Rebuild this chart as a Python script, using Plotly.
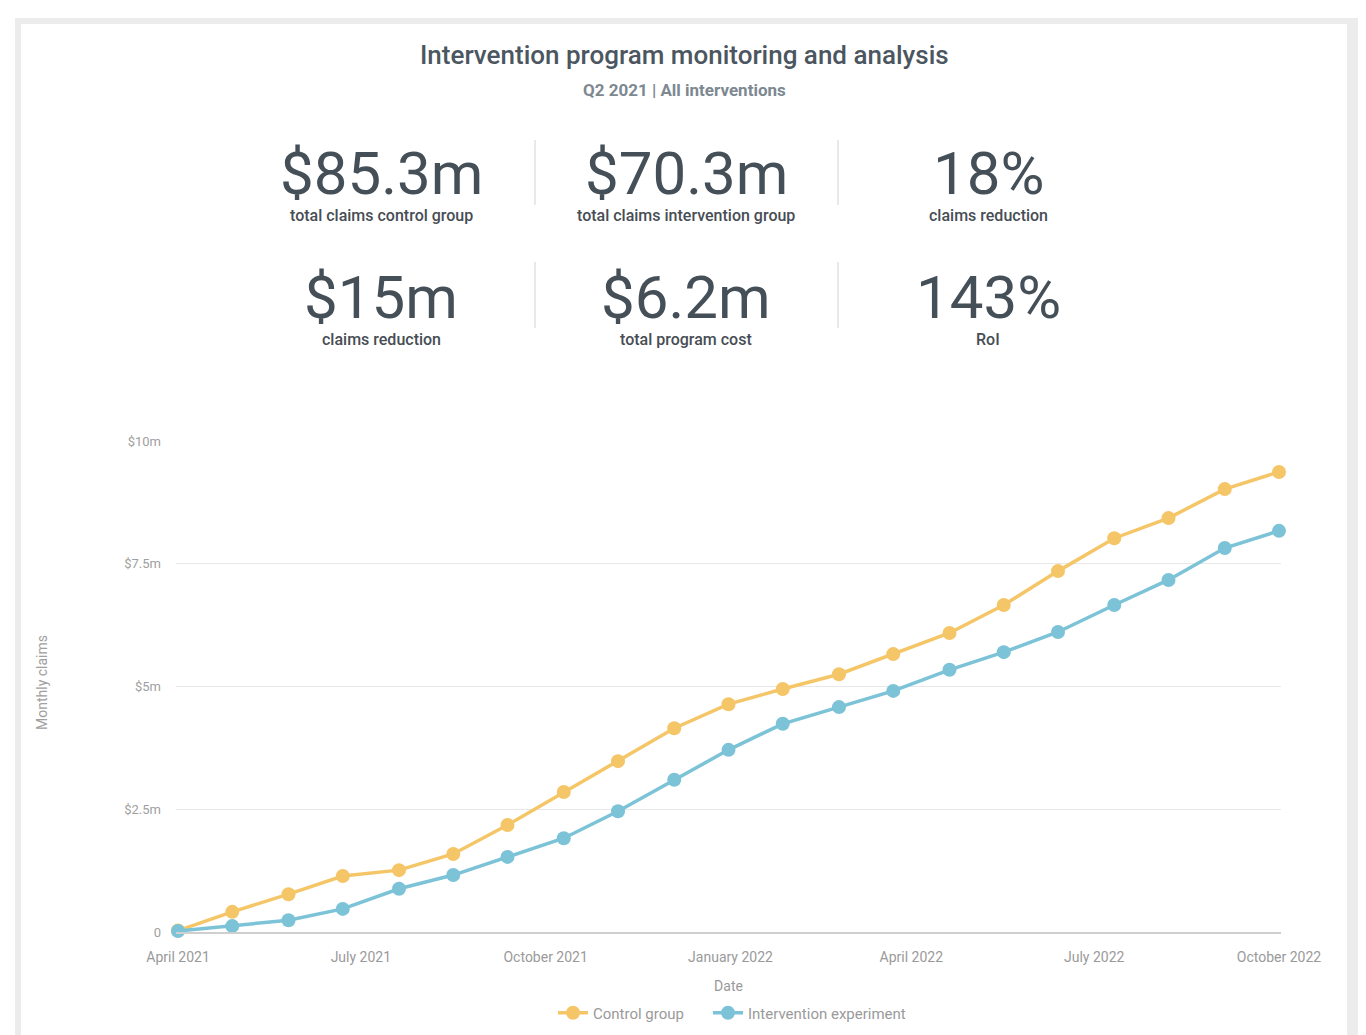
import plotly.graph_objects as go

# ---- data ----
dates = ["2021-04-01", "2021-04-28", "2021-05-26", "2021-06-22", "2021-07-20",
         "2021-08-16", "2021-09-12", "2021-10-10", "2021-11-06", "2021-12-04",
         "2021-12-31", "2022-01-27", "2022-02-24", "2022-03-23", "2022-04-20",
         "2022-05-17", "2022-06-13", "2022-07-11", "2022-08-07", "2022-09-04",
         "2022-10-01"]
control = [0.03, 0.41, 0.77, 1.14, 1.26, 1.59, 2.18, 2.85, 3.48, 4.15, 4.64,
           4.95, 5.25, 5.66, 6.09, 6.66, 7.35, 8.02, 8.43, 9.02, 9.37]
intervention = [0.02, 0.12, 0.24, 0.47, 0.88, 1.16, 1.53, 1.91, 2.46, 3.10, 3.71,
                4.24, 4.58, 4.91, 5.34, 5.70, 6.11, 6.66, 7.17, 7.82, 8.17]

x_tick_vals = ["2021-04-01", "2021-07-01", "2021-10-01", "2022-01-01",
               "2022-04-01", "2022-07-01", "2022-10-01"]
x_tick_text = ["April 2021", "July 2021", "October 2021", "January 2022",
               "April 2022", "July 2022", "October 2022"]
y_tick_vals = [0, 2.5, 5, 7.5, 10]
y_tick_text = ["0", "$2.5m", "$5m", "$7.5m", "$10m"]

kpi_values = ["$85.3m", "$70.3m", "18%", "$15m", "$6.2m", "143%"]
kpi_labels = ["total claims control group", "total claims intervention group",
              "claims reduction", "claims reduction", "total program cost", "RoI"]

# ---- layout geometry ----
# the page body adds an 8px offset; figure coords = page coords - 8
OFF = 8
W, H = 1366, 1035
PLOT_L, PLOT_R, PLOT_T, PLOT_B = 176, 1281, 441, 932   # page pixels
L = PLOT_L - OFF
R = W - (PLOT_R - OFF)
T = PLOT_T - OFF
B = H - (PLOT_B - OFF)
PW = PLOT_R - PLOT_L
PH = PLOT_B - PLOT_T


def px(x):
    return (x - PLOT_L) / PW


def py(y):
    return (PLOT_B - y) / PH


FONT = "Roboto"
DARK = "#454f57"
LABEL = "#474d54"

fig = go.Figure()
fig.add_trace(go.Scatter(
    x=dates, y=control, name="Control group", mode="lines+markers",
    line=dict(color="#F5C667", width=3.5), legend="legend",
    marker=dict(color="#F5C667", size=14), cliponaxis=False))
fig.add_trace(go.Scatter(
    x=dates, y=intervention, name="Intervention experiment", mode="lines+markers",
    line=dict(color="#7CC3D8", width=3.5), legend="legend2",
    marker=dict(color="#7CC3D8", size=14), cliponaxis=False))

annotations = [
    dict(text="Intervention program monitoring and analysis", x=px(684), y=py(55),
         font=dict(family=FONT, size=26, color="#4b5660", weight=500)),
    dict(text="<b>Q2 2021 | All interventions</b>", x=px(684), y=py(90),
         font=dict(family=FONT, size=17, color="#7d8891")),
    dict(text="Monthly claims", x=px(42), y=py(683), textangle=-90,
         font=dict(family=FONT, size=14, color="#a0a0a0")),
]
col_x = [381, 686, 988]
row_num_y = [173, 297]
row_lab_y = [216, 339]
for i, (v, lab) in enumerate(zip(kpi_values, kpi_labels)):
    r, c = divmod(i, 3)
    annotations.append(dict(text=v, x=px(col_x[c]), y=py(row_num_y[r]),
                            height=62, valign="middle",
                            font=dict(family=FONT, size=60, color=DARK)))
    annotations.append(dict(text=lab, x=px(col_x[c]), y=py(row_lab_y[r]),
                            font=dict(family=FONT, size=16, color=LABEL, weight=500)))
for a in annotations:
    a.update(xref="paper", yref="paper", xanchor="center", yanchor="middle",
             showarrow=False)

shapes = [
    # outer frame
    dict(type="rect", xref="paper", yref="paper", x0=px(15), x1=px(1380),
         y0=py(1050), y1=py(18), fillcolor="#ececec", line=dict(width=0),
         layer="below"),
    dict(type="rect", xref="paper", yref="paper", x0=px(21), x1=px(1347),
         y0=py(1050), y1=py(24), fillcolor="#ffffff", line=dict(width=0),
         layer="below"),
]
for sx in [535, 838]:
    for (y0, y1) in [(140, 205), (262, 328)]:
        shapes.append(dict(type="line", xref="paper", yref="paper",
                           x0=px(sx), x1=px(sx), y0=py(y0), y1=py(y1),
                           line=dict(color="#e9e9e9", width=2)))

legend_common = dict(orientation="h", xanchor="left", yanchor="middle",
                     xref="container", yref="container",
                     y=(H - (1013 - OFF)) / H,
                     font=dict(family=FONT, size=15, color="#9a9a9a"),
                     itemwidth=30, bgcolor="rgba(0,0,0,0)")

fig.update_layout(
    width=W, height=H,
    margin=dict(l=L, r=R, t=T, b=B, autoexpand=False),
    paper_bgcolor="#ffffff", plot_bgcolor="rgba(0,0,0,0)",
    font=dict(family=FONT, color="#999999"),
    annotations=annotations, shapes=shapes,
    showlegend=True,
    legend=dict(legend_common, x=(553 - OFF) / W),
    legend2=dict(legend_common, x=(708 - OFF) / W),
    xaxis=dict(type="date", range=["2021-03-31", "2022-10-02"],
               tickvals=x_tick_vals, ticktext=x_tick_text,
               tickfont=dict(family=FONT, size=14, color="#9a9a9a"),
               showgrid=False, showline=True, linecolor="#cfcfcf", linewidth=2,
               ticks="", ticklabelstandoff=11, automargin=False,
               title=dict(text="Date", standoff=17,
                          font=dict(family=FONT, size=14, color="#9a9a9a"))),
    yaxis=dict(range=[0, 10], tickvals=y_tick_vals, ticktext=y_tick_text,
               tickfont=dict(family=FONT, size=13, color="#a0a0a0"),
               showgrid=True, gridcolor="#e8e8e8", gridwidth=1, automargin=False,
               zeroline=False, showline=False, ticks="", ticklabelstandoff=14),
)

fig.write_html("out.html")
